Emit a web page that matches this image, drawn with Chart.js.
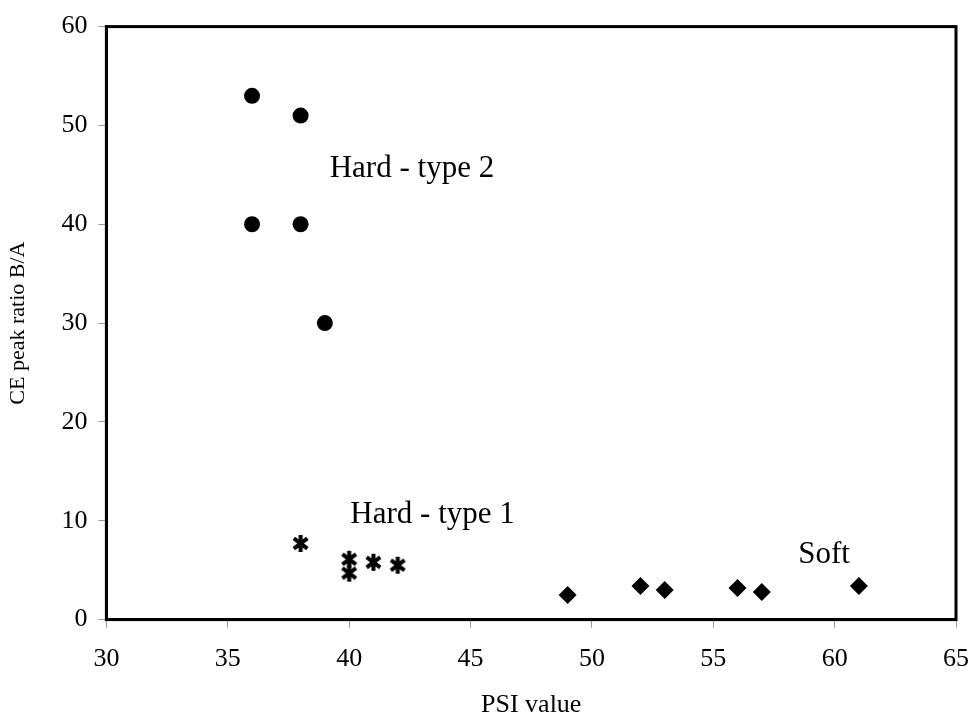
<!DOCTYPE html>
<html>
<head>
<meta charset="utf-8">
<script src="https://cdn.jsdelivr.net/npm/chart.js@4/dist/chart.umd.min.js"></script>
<style>
html,body{margin:0;padding:0;background:#fff;}
#wrap{width:972px;height:721px;position:relative;}
</style>
</head>
<body>
<div id="wrap"><canvas id="c" width="972" height="721"></canvas></div>
<script>
// Data
const hardType2X = [36, 38, 36, 38, 39];
const hardType2Y = [53, 51, 40, 40, 30];
const hardType1X = [38, 40, 40, 41, 42];
const hardType1Y = [7.7, 6.1, 4.7, 5.8, 5.5];
const softX = [49, 52, 53, 56, 57, 61];
const softY = [2.5, 3.4, 3.0, 3.2, 2.8, 3.4];
const groupLabels = ['Hard - type 2', 'Hard - type 1', 'Soft'];
const groupLabelX = [39.2, 40.05, 58.5];
const groupLabelY = [45.6, 10.6, 6.6];
const xTicks = [30, 35, 40, 45, 50, 55, 60, 65];
const yTicks = [0, 10, 20, 30, 40, 50, 60];

function pts(xs, ys){ return xs.map((x,i)=>({x:x, y:ys[i]})); }

// asterisk marker
function makeAsterisk(size){
  const c = document.createElement('canvas');
  c.width = size; c.height = size;
  const g = c.getContext('2d');
  g.strokeStyle = '#000'; g.lineWidth = 4; g.lineCap = 'butt';
  const m = size/2, r = size/2 - 1;
  g.beginPath();
  g.moveTo(m, m - r); g.lineTo(m, m + r);
  const dx = r*0.8, dy = r*0.6;
  g.moveTo(m-dx, m-dy); g.lineTo(m+dx, m+dy);
  g.moveTo(m-dx, m+dy); g.lineTo(m+dx, m-dy);
  g.stroke();
  return c;
}
const asterisk = makeAsterisk(19);

const SERIF = '"Liberation Serif", "Times New Roman", serif';

const framePlugin = {
  id: 'frame',
  afterDraw(chart){
    const {ctx, chartArea:a, scales} = chart;
    ctx.save();
    ctx.strokeStyle = '#000'; ctx.lineWidth = 3;
    ctx.strokeRect(a.left, a.top, a.right - a.left, a.bottom - a.top);
    ctx.fillStyle = '#000';
    ctx.font = '31px ' + SERIF;
    ctx.textBaseline = 'middle'; ctx.textAlign = 'left';
    groupLabels.forEach((t,i)=>{
      ctx.fillText(t, scales.x.getPixelForValue(groupLabelX[i]), scales.y.getPixelForValue(groupLabelY[i]));
    });
    ctx.restore();
  }
};

new Chart(document.getElementById('c'), {
  type: 'scatter',
  data: {
    datasets: [
      {label:'Hard - type 2', data: pts(hardType2X, hardType2Y), pointStyle:'circle', pointRadius:8, pointHoverRadius:8, backgroundColor:'#000', borderColor:'#000', borderWidth:0},
      {label:'Hard - type 1', data: pts(hardType1X, hardType1Y), pointStyle: asterisk, pointRadius:9, backgroundColor:'#000', borderColor:'#000'},
      {label:'Soft', data: pts(softX, softY), pointStyle:'rectRot', pointRadius:9, pointHoverRadius:9, backgroundColor:'#000', borderColor:'#000', borderWidth:0}
    ]
  },
  options: {
    responsive: false,
    animation: false,
    layout: {padding: {left: 2, right: 0, top: 24, bottom: 0}},
    plugins: {legend:{display:false}, tooltip:{enabled:false}},
    scales: {
      x: {
        type:'linear', min:30, max:65,
        afterBuildTicks(s){ s.ticks = xTicks.map(v=>({value:v})); },
        afterFit(s){ s.paddingRight = 16; s.paddingLeft = 0; },
        grid:{drawOnChartArea:false, drawTicks:true, tickLength:8, color:'#999', lineWidth:1},
        border:{display:true, color:'#000', width:3},
        ticks:{color:'#000', font:{family:SERIF, size:26}, padding:16, maxRotation:0},
        title:{display:true, text:'PSI value', color:'#000', font:{family:SERIF, size:26}, padding:{top:-1, bottom:0}}
      },
      y: {
        type:'linear', min:0, max:60,
        afterBuildTicks(s){ s.ticks = yTicks.map(v=>({value:v})); },
        grid:{drawOnChartArea:false, drawTicks:true, tickLength:8, color:'#999', lineWidth:1},
        border:{display:true, color:'#000', width:3},
        ticks:{color:'#000', font:{family:SERIF, size:26}, padding:11},
        title:{display:true, text:'CE peak ratio B/A', color:'#000', font:{family:SERIF, size:22}, padding:{top:3, bottom:19}}
      }
    }
  },
  plugins:[framePlugin]
});
</script>
</body>
</html>
